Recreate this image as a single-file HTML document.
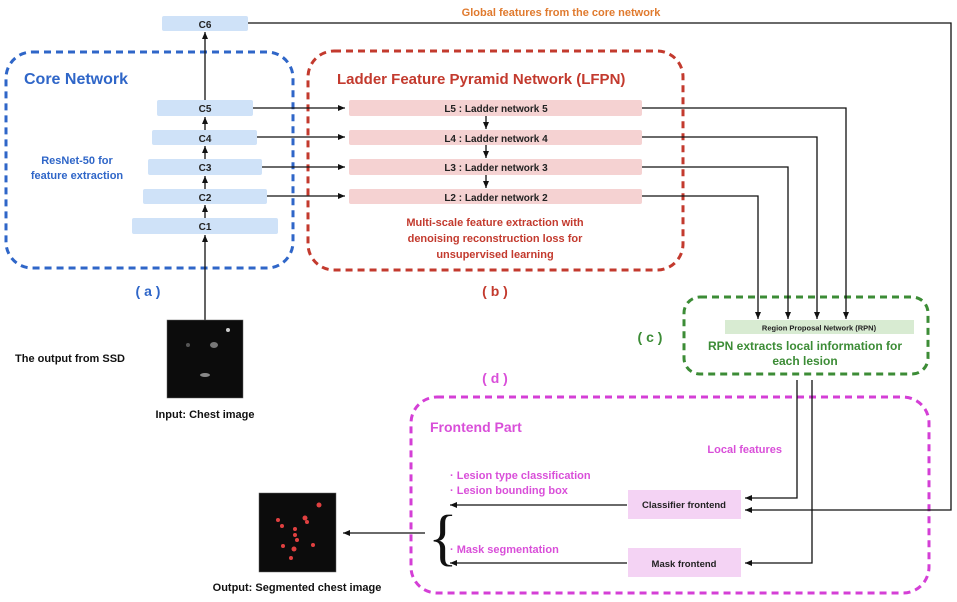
<!DOCTYPE html>
<html><head><meta charset="utf-8"><style>
html,body{margin:0;padding:0;background:#fff;width:957px;height:602px;overflow:hidden}
svg{display:block;font-family:"Liberation Sans",Arial,sans-serif;font-weight:bold}
</style></head><body>
<svg width="957" height="602" viewBox="0 0 957 602" xmlns="http://www.w3.org/2000/svg">
<defs>
<marker id="a" markerWidth="8" markerHeight="8" refX="7" refY="4" orient="auto" markerUnits="userSpaceOnUse"><path d="M0,1 L7,4 L0,7 z" fill="#111"/></marker>
</defs>
<rect x="6" y="52" width="287" height="216" rx="26" fill="none" stroke="#2f66c8" stroke-width="3" stroke-dasharray="7,5"/>
<rect x="308" y="51" width="375" height="219" rx="26" fill="none" stroke="#c33a2e" stroke-width="3" stroke-dasharray="7,5"/>
<rect x="684" y="297" width="244" height="77" rx="16" fill="none" stroke="#3c8c36" stroke-width="3" stroke-dasharray="7,5"/>
<rect x="411" y="397" width="518" height="196" rx="26" fill="none" stroke="#d43fd6" stroke-width="3" stroke-dasharray="7,5"/>

<g fill="#cfe2f8">
<rect x="162" y="16" width="86" height="15" rx="2"/>
<rect x="157" y="100" width="96" height="16" rx="2"/>
<rect x="152" y="130" width="105" height="15" rx="2"/>
<rect x="148" y="159" width="114" height="16" rx="2"/>
<rect x="143" y="189" width="124" height="15" rx="2"/>
<rect x="132" y="218" width="146" height="16" rx="2"/>
</g>
<g font-size="10" fill="#222" text-anchor="middle">
<text x="205" y="28">C6</text><text x="205" y="112">C5</text><text x="205" y="142">C4</text>
<text x="205" y="171">C3</text><text x="205" y="201">C2</text><text x="205" y="230">C1</text>
</g>
<g stroke="#111" stroke-width="1.3" marker-end="url(#a)">
<line x1="205" y1="100" x2="205" y2="32"/>
<line x1="205" y1="130" x2="205" y2="117"/>
<line x1="205" y1="159" x2="205" y2="146"/>
<line x1="205" y1="189" x2="205" y2="176"/>
<line x1="205" y1="218" x2="205" y2="205"/>
<line x1="205" y1="320" x2="205" y2="235"/>
</g>
<g fill="#f5d2d2">
<rect x="349" y="100" width="293" height="16" rx="2"/>
<rect x="349" y="130" width="293" height="15" rx="2"/>
<rect x="349" y="159" width="293" height="16" rx="2"/>
<rect x="349" y="189" width="293" height="15" rx="2"/>
</g>
<g font-size="10" fill="#222" text-anchor="middle">
<text x="496" y="112">L5 : Ladder network 5</text>
<text x="496" y="142">L4 : Ladder network 4</text>
<text x="496" y="171">L3 : Ladder network 3</text>
<text x="496" y="201">L2 : Ladder network 2</text>
</g>
<g stroke="#111" stroke-width="1.3" marker-end="url(#a)">
<line x1="253" y1="108" x2="345" y2="108"/>
<line x1="257" y1="137" x2="345" y2="137"/>
<line x1="262" y1="167" x2="345" y2="167"/>
<line x1="267" y1="196" x2="345" y2="196"/>
<line x1="486" y1="116" x2="486" y2="129"/>
<line x1="486" y1="145" x2="486" y2="158"/>
<line x1="486" y1="175" x2="486" y2="188"/>
</g>
<g stroke="#111" stroke-width="1.3" fill="none" marker-end="url(#a)">
<polyline points="642,108 846,108 846,319"/>
<polyline points="642,137 817,137 817,319"/>
<polyline points="642,167 788,167 788,319"/>
<polyline points="642,196 758,196 758,319"/>
<polyline points="248,23 951,23 951,510 745,510"/>
<polyline points="797,380 797,498 745,498"/>
<polyline points="812,380 812,563 745,563"/>
<line x1="627" y1="505" x2="450" y2="505"/>
<line x1="627" y1="563" x2="450" y2="563"/>
<line x1="425" y1="533" x2="343" y2="533"/>
</g>
<rect x="725" y="320" width="189" height="14" fill="#d8ebd2"/>
<text x="819" y="330.5" font-size="7.5" fill="#222" text-anchor="middle">Region Proposal Network (RPN)</text>
<g fill="#3c8c36" font-size="12" text-anchor="middle">
<text x="805" y="350">RPN extracts local information for</text>
<text x="805" y="365">each lesion</text>
<text x="650" y="342" font-size="14">( c )</text>
</g>
<rect x="628" y="490" width="113" height="29" fill="#f4d3f4"/>
<rect x="628" y="548" width="113" height="29" fill="#f4d3f4"/>
<text x="684" y="508" font-size="9.5" fill="#222" text-anchor="middle">Classifier frontend</text>
<text x="684" y="567" font-size="9.5" fill="#222" text-anchor="middle">Mask frontend</text>
<text x="428" y="558" font-size="62" font-weight="normal" fill="#111" font-family="Liberation Serif,serif">{</text>
<text x="561" y="16" font-size="11" fill="#e07a2e" text-anchor="middle">Global features from the core network</text>
<text x="24" y="84" font-size="16" fill="#2f66c8">Core Network</text>
<text x="77" y="164" font-size="11" fill="#2f66c8" text-anchor="middle">ResNet-50 for</text>
<text x="77" y="179" font-size="11" fill="#2f66c8" text-anchor="middle">feature extraction</text>
<text x="148" y="296" font-size="14" fill="#2f66c8" text-anchor="middle">( a )</text>
<text x="337" y="84" font-size="15" fill="#c33a2e">Ladder Feature Pyramid Network (LFPN)</text>
<g font-size="11" fill="#c33a2e" text-anchor="middle">
<text x="495" y="226">Multi-scale feature extraction with</text>
<text x="495" y="242">denoising reconstruction loss for</text>
<text x="495" y="258">unsupervised learning</text>
<text x="495" y="296" font-size="14">( b )</text>
</g>
<g fill="#d94fd9">
<text x="495" y="383" font-size="14" text-anchor="middle">( d )</text>
<text x="430" y="432" font-size="14">Frontend Part</text>
<text x="782" y="453" font-size="11" text-anchor="end">Local features</text>
<text x="450" y="479" font-size="11">·  Lesion type classification</text>
<text x="450" y="494" font-size="11">·  Lesion bounding box</text>
<text x="450" y="553" font-size="11">·  Mask segmentation</text>
</g>
<g font-size="11" fill="#111">
<text x="15" y="362">The output from SSD</text>
<text x="205" y="418" text-anchor="middle">Input: Chest image</text>
<text x="297" y="591" text-anchor="middle">Output: Segmented chest image</text>
</g>
<rect x="167" y="320" width="76" height="78" fill="#0c0c0c" stroke="#666" stroke-width="0.5"/>
<ellipse cx="214" cy="345" rx="4" ry="3" fill="#777"/>
<ellipse cx="205" cy="375" rx="5" ry="2" fill="#888"/>
<circle cx="228" cy="330" r="2" fill="#ccc"/>
<circle cx="188" cy="345" r="2" fill="#555"/>
<rect x="259" y="493" width="77" height="79" fill="#0c0c0c" stroke="#666" stroke-width="0.5"/>
<g fill="#e04040">
<circle cx="319" cy="505" r="2.5"/><circle cx="278" cy="520" r="2"/><circle cx="305" cy="518" r="2.5"/>
<circle cx="282" cy="526" r="2"/><circle cx="295" cy="529" r="2"/><circle cx="295" cy="535" r="2"/>
<circle cx="297" cy="540" r="2"/><circle cx="313" cy="545" r="2"/><circle cx="283" cy="546" r="2"/>
<circle cx="294" cy="549" r="2.5"/><circle cx="291" cy="558" r="2"/><circle cx="307" cy="522" r="2"/>
</g>
</svg>
</body></html>
